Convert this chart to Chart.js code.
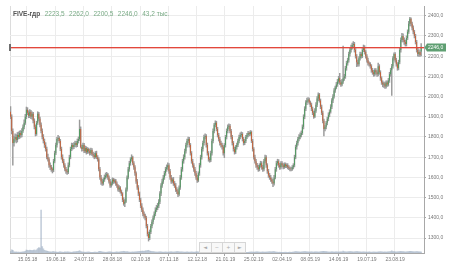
<!DOCTYPE html>
<html>
<head>
<meta charset="utf-8">
<script src="https://cdn.jsdelivr.net/npm/chart.js@4.4.0/dist/chart.umd.min.js"></script>
<style>
  body { margin: 0; background: #fff; }
  #wrap { position: relative; width: 452px; height: 270px; }
  #hdr { position: absolute; left: 13px; top: 9.5px; font: 6.5px 'Liberation Sans', Arial, sans-serif; line-height: 7.5px; color: #7aab86; white-space: nowrap; }
  #hdr b { color: #555; }
  #hdr span { margin-left: 4.5px; }
  #nav { position: absolute; left: 199px; top: 242px; display: flex; }
  #nav span { width: 10.5px; height: 8.5px; border: 1px solid #d6d6d6; margin-right: -1px; background: #f8f8f8; color: #aaa; font: 5px 'DejaVu Sans', sans-serif; text-align: center; line-height: 8.5px; }
</style>
</head>
<body>
<div id="wrap">
  <canvas id="chart" width="452" height="270"></canvas>
  <div id="hdr"></div>
  <div id="nav"><span>◄</span><span>−</span><span>+</span><span>►</span></div>
</div>
<script>
// FIVE-гдр, daily candles
const ticker = 'FIVE-гдр';
const tickLabels = ['15.05.18','19.06.18','24.07.18','28.08.18','02.10.18','07.11.18','12.12.18',
  '21.01.19','25.02.19','02.04.19','08.05.19','14.06.19','19.07.19','23.08.19'];

const opens = [1925,1900,1830,1770,1790,1800,1785,1810,1800,1820,
1810,1830,1850,1870,1900,1935,1920,1905,1925,1900,
1915,1880,1850,1815,1870,1915,1890,1860,1830,1800,
1780,1760,1740,1700,1690,1660,1650,1640,1635,1680,
1720,1760,1790,1795,1780,1740,1700,1680,1660,1640,
1630,1625,1660,1700,1740,1760,1750,1760,1770,1760,
1780,1790,1840,1750,1740,1760,1730,1745,1725,1740,
1730,1720,1735,1715,1710,1700,1720,1700,1690,1640,
1600,1580,1570,1590,1600,1610,1615,1600,1580,1560,
1570,1590,1580,1585,1570,1560,1540,1550,1530,1520,
1490,1470,1480,1540,1600,1640,1670,1690,1700,1670,
1650,1620,1580,1550,1520,1490,1460,1440,1420,1410,
1400,1360,1320,1300,1330,1360,1380,1400,1420,1440,
1450,1460,1480,1520,1560,1580,1600,1620,1640,1650,
1660,1630,1600,1580,1590,1570,1560,1540,1530,1515,
1550,1600,1640,1680,1700,1730,1760,1780,1790,1760,
1720,1680,1660,1640,1620,1600,1585,1620,1660,1700,
1740,1770,1800,1805,1760,1720,1690,1685,1720,1780,
1830,1860,1870,1840,1810,1790,1770,1760,1750,1720,
1760,1800,1830,1850,1855,1830,1800,1770,1740,1725,
1750,1760,1780,1800,1810,1815,1790,1770,1780,1800,
1810,1820,1815,1825,1780,1740,1700,1680,1660,1650,
1640,1660,1670,1650,1640,1680,1700,1660,1630,1610,
1600,1590,1580,1570,1600,1640,1670,1680,1660,1650,
1670,1660,1650,1665,1655,1660,1650,1645,1640,1640,
1650,1660,1700,1750,1770,1790,1800,1810,1820,1850,
1900,1940,1970,1980,1985,1970,1960,1940,1920,1900,
1930,1960,1990,2010,1980,1950,1920,1880,1840,1850,
1870,1890,1910,1925,1950,1980,2000,2030,2045,2060,
2075,2090,2070,2060,2075,2090,2100,2140,2165,2180,
2210,2230,2245,2255,2260,2230,2200,2170,2160,2190,
2210,2200,2230,2245,2220,2200,2180,2165,2160,2150,
2130,2120,2110,2130,2120,2110,2150,2120,2090,2070,
2060,2065,2050,2070,2060,2080,2110,2130,2150,2190,
2210,2180,2160,2140,2170,2230,2280,2300,2280,2270,
2260,2290,2320,2360,2385,2360,2340,2320,2300,2270,
2230,2210,2220,2223.5];

const highs = [1950,1910,1840,1805,1815,1812,1822,1825,1830,1832,
1842,1860,1885,1912,1948,1945,1930,1935,1932,1925,
1922,1890,1860,1878,1925,1922,1898,1870,1840,1812,
1790,1772,1750,1715,1698,1672,1660,1648,1690,1730,
1770,1798,1808,1802,1788,1750,1712,1690,1668,1650,
1640,1672,1710,1750,1770,1768,1772,1780,1778,1790,
1800,1884,1850,1760,1770,1768,1755,1752,1748,1745,
1740,1745,1742,1725,1720,1728,1730,1708,1698,1650,
1610,1590,1598,1612,1622,1625,1620,1608,1590,1578,
1598,1596,1592,1590,1578,1565,1560,1555,1538,1525,
1500,1490,1548,1608,1650,1680,1698,1712,1705,1678,
1658,1628,1590,1560,1528,1498,1470,1450,1430,1418,
1408,1368,1330,1340,1368,1390,1410,1430,1450,1462,
1472,1490,1530,1570,1592,1610,1630,1650,1662,1672,
1668,1640,1610,1598,1600,1580,1570,1550,1540,1558,
1610,1650,1690,1712,1740,1770,1790,1800,1798,1768,
1728,1690,1668,1650,1630,1610,1628,1670,1710,1750,
1780,1810,1815,1812,1770,1728,1700,1730,1790,1840,
1868,1880,1878,1848,1818,1798,1780,1770,1758,1768,
1808,1840,1860,1865,1862,1838,1808,1778,1750,1758,
1770,1790,1810,1820,1825,1822,1798,1788,1808,1818,
1828,1826,1832,1830,1788,1748,1710,1690,1670,1660,
1668,1680,1678,1660,1690,1711,1708,1668,1640,1620,
1610,1598,1590,1610,1650,1680,1690,1688,1670,1678,
1678,1668,1672,1672,1668,1668,1658,1652,1650,1658,
1668,1710,1760,1780,1798,1812,1820,1830,1860,1910,
1950,1980,1992,1995,1992,1978,1968,1948,1928,1940,
1970,2000,2018,2016,1988,1958,1928,1888,1858,1878,
1898,1920,1935,1960,1990,2010,2040,2052,2070,2085,
2100,2115,2080,2085,2250,2110,2150,2175,2190,2220,
2240,2255,2265,2272,2268,2238,2208,2180,2198,2220,
2218,2238,2255,2252,2228,2208,2190,2172,2168,2158,
2140,2130,2138,2138,2128,2165,2158,2128,2098,2078,
2072,2072,2078,2078,2090,2120,2140,2160,2198,2216,
2218,2190,2168,2180,2240,2290,2313,2310,2290,2280,
2300,2330,2372,2392,2390,2368,2350,2328,2308,2278,
2240,2232,2228,2262];

const lows = [1890,1815,1660,1755,1778,1770,1775,1790,1792,1798,
1800,1822,1840,1862,1890,1910,1895,1895,1890,1888,
1870,1840,1805,1808,1862,1880,1850,1820,1790,1770,
1748,1730,1692,1680,1650,1638,1630,1622,1628,1672,
1712,1750,1780,1770,1732,1690,1672,1650,1632,1620,
1615,1618,1652,1692,1732,1740,1742,1752,1750,1752,
1770,1782,1745,1730,1732,1722,1722,1715,1718,1720,
1710,1712,1708,1700,1692,1695,1692,1680,1632,1590,
1565,1560,1562,1580,1592,1600,1590,1572,1550,1552,
1562,1570,1572,1560,1550,1532,1530,1522,1510,1480,
1462,1455,1475,1532,1592,1630,1660,1680,1662,1640,
1610,1570,1540,1510,1480,1450,1430,1410,1398,1390,
1350,1310,1285,1292,1322,1350,1370,1392,1410,1430,
1440,1450,1470,1510,1550,1570,1590,1610,1630,1640,
1620,1590,1570,1572,1560,1550,1530,1520,1505,1508,
1540,1590,1630,1670,1690,1720,1750,1770,1750,1710,
1670,1650,1630,1610,1590,1575,1578,1610,1650,1690,
1730,1760,1790,1750,1710,1680,1675,1678,1710,1770,
1820,1850,1830,1800,1780,1760,1750,1740,1710,1698,
1750,1790,1820,1840,1820,1790,1760,1730,1715,1718,
1740,1752,1770,1790,1800,1780,1760,1762,1772,1792,
1800,1805,1808,1772,1730,1690,1670,1650,1640,1630,
1632,1650,1640,1630,1632,1672,1650,1620,1600,1590,
1580,1570,1554,1562,1592,1630,1660,1650,1640,1642,
1652,1642,1644,1648,1648,1642,1638,1632,1632,1634,
1642,1652,1692,1740,1760,1780,1790,1800,1812,1840,
1890,1930,1960,1972,1962,1950,1930,1910,1892,1895,
1922,1950,1980,1972,1940,1910,1870,1805,1830,1840,
1860,1880,1900,1918,1940,1970,1992,2020,2038,2050,
2065,2060,2050,2052,2065,2080,2090,2130,2155,2170,
2200,2220,2235,2245,2220,2190,2148,2150,2150,2180,
2190,2192,2222,2210,2190,2170,2155,2150,2140,2120,
2110,2100,2102,2110,2100,2102,2110,2080,2060,2048,
2045,2040,2042,2050,2052,2070,2100,2005,2140,2180,
2170,2150,2130,2132,2162,2220,2270,2270,2258,2250,
2250,2282,2312,2350,2350,2330,2310,2290,2260,2220,
2200,2198,2198,2200.5];

const closes = [1900,1830,1770,1790,1800,1785,1810,1800,1820,1810,
1830,1850,1870,1900,1935,1920,1905,1925,1900,1915,
1880,1850,1815,1870,1915,1890,1860,1830,1800,1780,
1760,1740,1700,1690,1660,1650,1640,1635,1680,1720,
1760,1790,1795,1780,1740,1700,1680,1660,1640,1630,
1625,1660,1700,1740,1760,1750,1760,1770,1760,1780,
1790,1840,1750,1740,1760,1730,1745,1725,1740,1730,
1720,1735,1715,1710,1700,1720,1700,1690,1640,1600,
1580,1570,1590,1600,1610,1615,1600,1580,1560,1570,
1590,1580,1585,1570,1560,1540,1550,1530,1520,1490,
1470,1480,1540,1600,1640,1670,1690,1700,1670,1650,
1620,1580,1550,1520,1490,1460,1440,1420,1410,1400,
1360,1320,1300,1330,1360,1380,1400,1420,1440,1450,
1460,1480,1520,1560,1580,1600,1620,1640,1650,1660,
1630,1600,1580,1590,1570,1560,1540,1530,1515,1550,
1600,1640,1680,1700,1730,1760,1780,1790,1760,1720,
1680,1660,1640,1620,1600,1585,1620,1660,1700,1740,
1770,1800,1805,1760,1720,1690,1685,1720,1780,1830,
1860,1870,1840,1810,1790,1770,1760,1750,1720,1760,
1800,1830,1850,1855,1830,1800,1770,1740,1725,1750,
1760,1780,1800,1810,1815,1790,1770,1780,1800,1810,
1820,1815,1825,1780,1740,1700,1680,1660,1650,1640,
1660,1670,1650,1640,1680,1700,1660,1630,1610,1600,
1590,1580,1570,1600,1640,1670,1680,1660,1650,1670,
1660,1650,1665,1655,1660,1650,1645,1640,1640,1650,
1660,1700,1750,1770,1790,1800,1810,1820,1850,1900,
1940,1970,1980,1985,1970,1960,1940,1920,1900,1930,
1960,1990,2010,1980,1950,1920,1880,1840,1850,1870,
1890,1910,1925,1950,1980,2000,2030,2045,2060,2075,
2090,2070,2060,2075,2090,2100,2140,2165,2180,2210,
2230,2245,2255,2260,2230,2200,2170,2160,2190,2210,
2200,2230,2245,2220,2200,2180,2165,2160,2150,2130,
2120,2110,2130,2120,2110,2150,2120,2090,2070,2060,
2065,2050,2070,2060,2080,2110,2130,2150,2190,2210,
2180,2160,2140,2170,2230,2280,2300,2280,2270,2260,
2290,2320,2360,2385,2360,2340,2320,2300,2270,2230,
2210,2220,2205,2246];

// volume, thousands
const volumes = [60,130,110,50,40,45,35,40,30,35,40,45,50,70,
120,110,100,115,105,95,110,125,100,130,180,220,200,1740,260,170,110,90,80,70,
50,45,40,55,60,45,
40,35,30,45,50,40,35,30,45,40,
50,45,40,35,30,40,45,50,55,60,
70,95,60,45,40,35,30,35,40,45,
35,30,25,30,35,40,30,35,60,70,
55,45,40,35,30,35,40,45,50,40,
35,30,35,40,45,40,35,50,55,60,
70,60,50,55,45,40,35,40,45,40,
45,50,55,60,65,70,75,80,70,85,
90,100,110,80,70,60,55,50,45,40,
40,45,50,45,40,35,40,45,40,35,
40,45,50,45,40,45,50,55,60,50,
45,50,45,40,35,40,45,40,35,40,
45,40,35,40,45,50,45,40,35,40,
45,40,35,30,35,40,45,40,45,50,
40,35,30,35,40,35,30,35,40,45,
40,35,30,35,40,45,40,35,30,35,
30,25,30,35,30,25,30,35,30,25,
30,35,40,45,40,35,40,45,50,45,
40,35,40,45,40,35,40,45,50,55,
50,45,60,55,45,40,35,30,35,30,
30,25,30,35,30,25,30,35,30,35,
40,50,60,55,50,45,40,45,50,55,
60,55,50,45,40,45,50,45,40,45,
50,45,40,45,55,60,65,70,60,55,
50,45,40,45,50,45,40,45,50,45,
40,45,50,45,80,55,50,45,50,55,
60,55,50,45,50,55,60,55,50,45,
40,45,50,45,40,35,40,45,40,35,
40,45,40,35,40,45,50,55,50,45,
40,45,40,45,50,55,60,90,60,55,
50,45,50,55,60,65,60,55,50,45,
50,55,60,70,65,60,55,50,55,60,
55,50,48,43.2];

const firstTick = 15;   // bar index of the first date label
const tickEvery = 25;   // bars between date labels
const slotCount = 366;  // a little empty room after the last bar

const fmt = v => v.toFixed(1).replace('.', ',');
const green = '#4a9a5b';
const red = '#c65f35';

const categories = Array.from({ length: slotCount }, (_, i) => i);
const bodies = opens.map((o, i) => [o, closes[i]]);
const wicks = lows.map((l, i) => [l, highs[i]]);
const bodyColours = opens.map((o, i) => closes[i] >= o ? green : red);
const isLabelled = i => i >= firstTick && (i - firstTick) % tickEvery === 0 && (i - firstTick) / tickEvery < tickLabels.length;

const last = opens.length - 1;
document.getElementById('hdr').innerHTML = '<b>' + ticker + '</b>' +
  [opens[last], highs[last], lows[last], closes[last]].map(v => '<span>' + fmt(v) + '</span>').join('') +
  '<span>' + fmt(volumes[last]) + ' тыс.</span>';

// last price: red line across the plot, small marker on the left edge, green tag on the axis
const priceLine = {
  id: 'priceLine',
  afterDraw(chart) {
    const { ctx, chartArea, scales } = chart;
    const price = closes[last];
    const y = Math.round(scales.y.getPixelForValue(price));
    const r = chartArea.right;
    ctx.save();
    ctx.fillStyle = '#e2473c';
    ctx.fillRect(chartArea.left + 1, y, r - chartArea.left - 1, 1);
    ctx.fillStyle = 'rgba(226,71,60,0.35)';
    ctx.fillRect(chartArea.left + 1, y + 1, r - chartArea.left - 1, 1);
    ctx.fillStyle = '#6f6f6f';
    ctx.fillRect(chartArea.left - 1, y - 3, 2, 7);
    ctx.fillStyle = '#5f9f72';
    ctx.beginPath();
    ctx.moveTo(r + 0.5, y + 0.5);
    ctx.lineTo(r + 3, y - 3.5);
    ctx.lineTo(r + 22, y - 3.5);
    ctx.lineTo(r + 22, y + 4.5);
    ctx.lineTo(r + 3, y + 4.5);
    ctx.closePath();
    ctx.fill();
    ctx.fillStyle = '#fff';
    ctx.font = '5px "Liberation Sans", Arial, sans-serif';
    ctx.textBaseline = 'middle';
    ctx.fillText(fmt(price), r + 4, y + 1);
    ctx.restore();
  }
};

new Chart(document.getElementById('chart'), {
  type: 'bar',
  data: {
    labels: categories,
    datasets: [{
      label: 'body',
      data: bodies,
      backgroundColor: bodyColours,
      barPercentage: 0.8,
      categoryPercentage: 1,
      grouped: false,
      order: 0
    }, {
      label: 'wick',
      data: wicks,
      backgroundColor: '#9a9a9a',
      barThickness: 0.8,
      grouped: false,
      order: 1
    }, {
      label: 'volume',
      data: volumes,
      yAxisID: 'yv',
      backgroundColor: 'rgba(150,168,190,0.55)',
      barThickness: 1,
      grouped: false,
      order: 2
    }]
  },
  options: {
    responsive: false,
    animation: false,
    events: [],
    devicePixelRatio: 1,
    layout: { padding: { left: 10, top: 6, right: 0, bottom: 0 } },
    plugins: { legend: { display: false }, tooltip: { enabled: false } },
    scales: {
      x: {
        afterFit: s => { s.height = 17; },
        border: { color: '#a8a8a8' },
        grid: {
          color: c => c.index === 0 ? '#dcdcdc' : (isLabelled(c.index) ? '#ececec' : 'transparent'),
          tickColor: c => isLabelled(c.index) ? '#a8a8a8' : 'transparent',
          tickLength: 3
        },
        ticks: {
          autoSkip: false,
          maxRotation: 0,
          minRotation: 0,
          padding: 1,
          color: '#777',
          font: { family: "'Liberation Sans', Arial, sans-serif", size: 5 },
          callback: (v, i) => isLabelled(i) ? tickLabels[(i - firstTick) / tickEvery] : ''
        }
      },
      y: {
        position: 'right',
        min: 1226,
        max: 2448,
        afterFit: s => { s.width = 28; },
        border: { color: '#a8a8a8' },
        grid: { color: '#ececec', tickColor: '#a8a8a8', tickLength: 2 },
        ticks: {
          stepSize: 100,
          includeBounds: false,
          padding: 2,
          color: '#777',
          font: { family: "'Liberation Sans', Arial, sans-serif", size: 5 },
          callback: v => fmt(v)
        }
      },
      yv: {
        display: false,
        min: 0,
        max: 10000
      }
    }
  },
  plugins: [priceLine]
});
</script>
</body>
</html>
